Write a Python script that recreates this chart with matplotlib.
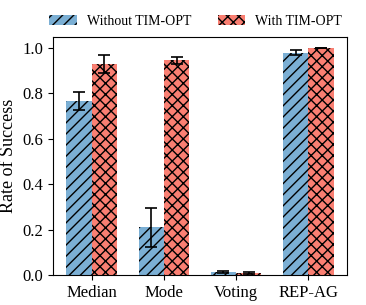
import numpy as np
import matplotlib
matplotlib.use("Agg")
import matplotlib.pyplot as plt

methods = ["Median", "Mode", "Voting", "REP-AG"]
without_opt = [0.765, 0.21, 0.015, 0.98]
without_err = [0.04, 0.085, 0.005, 0.01]
with_opt = [0.93, 0.945, 0.01, 1.0]
with_err = [0.04, 0.015, 0.003, 0.0]

plt.rcParams["font.family"] = ["Liberation Serif", "DejaVu Serif"]
plt.rcParams["hatch.linewidth"] = 1.0

fig, ax = plt.subplots(figsize=(3.66, 3.05), dpi=100)
x = np.arange(len(methods))
w = 0.35
ekw = dict(elinewidth=1.2, capthick=1.2, ecolor="black")
ax.bar(x - w / 2, without_opt, w, yerr=without_err, capsize=4, color="#7bafd4",
       edgecolor="black", linewidth=0, hatch="///", label="Without TIM-OPT", error_kw=ekw)
ax.bar(x + w / 2, with_opt, w, yerr=with_err, capsize=4, color="#fa7f72",
       edgecolor="black", linewidth=0, hatch="xxx", label="With TIM-OPT", error_kw=ekw)

ax.set_xticks(x)
ax.set_xticklabels(methods, fontsize=12)
ax.set_ylim(0, 1.05)
ax.set_yticks([0.0, 0.2, 0.4, 0.6, 0.8, 1.0])
ax.tick_params(axis="y", labelsize=12)
ax.set_ylabel("Rate of Success", fontsize=13)
ax.legend(loc="lower center", bbox_to_anchor=(0.485, 0.985), ncol=2, frameon=False,
          fontsize=10, handlelength=2.0, handletextpad=0.7, columnspacing=1.9)

fig.subplots_adjust(left=0.145, right=0.948, bottom=0.098, top=0.88)
fig.savefig("out.png", dpi=100)
